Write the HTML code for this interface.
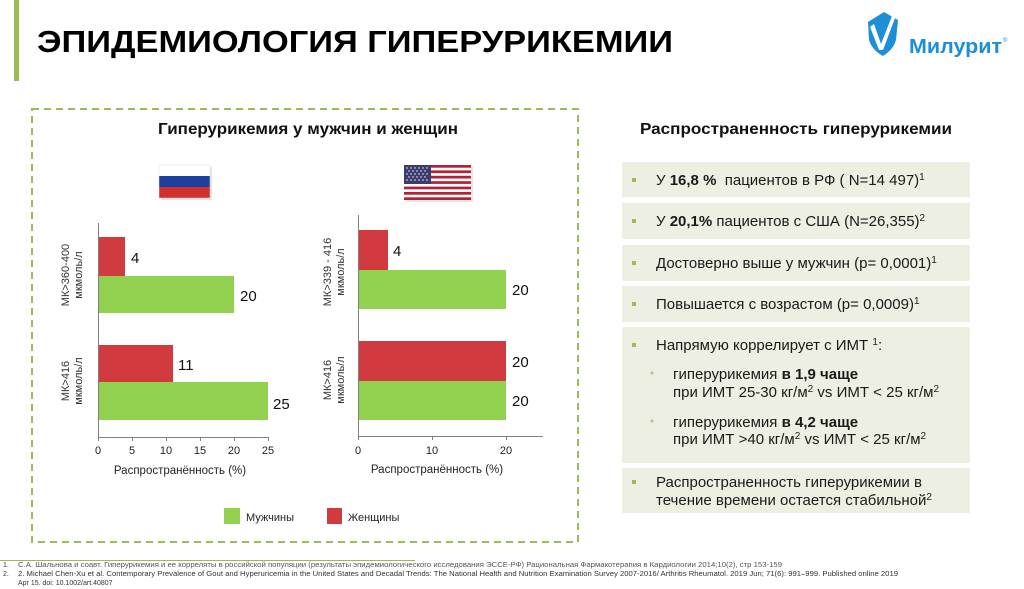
<!DOCTYPE html>
<html><head><meta charset="utf-8"><style>
html,body{margin:0;padding:0;background:#fff;}
svg{display:block;font-family:"Liberation Sans","DejaVu Sans",sans-serif;}
</style></head><body>
<svg width="1024" height="589" viewBox="0 0 1024 589" xmlns="http://www.w3.org/2000/svg">
<rect width="1024" height="589" fill="#fff"/>
<!-- title -->
<rect x="14" y="0" width="5" height="81" fill="#9bbb59"/>
<text x="37" y="52" font-size="31" font-weight="bold" fill="#000" textLength="636" lengthAdjust="spacingAndGlyphs">ЭПИДЕМИОЛОГИЯ ГИПЕРУРИКЕМИИ</text>
<!-- logo -->
<path d="M868 22 L884 12 L898 20 L896 40 Q893 50 883 56 Q872 50 869 40 Z" fill="#1d8fd8"/>
<path d="M874 24 L881 44 L892 16 L895 18 L883 50 L879 50 L870 27 Z" fill="#fff"/>
<text x="909" y="53" font-size="20" font-weight="bold" fill="#1d8fd8" textLength="93" lengthAdjust="spacingAndGlyphs">Милурит</text>
<text x="1003" y="42" font-size="6" fill="#1d8fd8">®</text>
<!-- dashed box -->
<rect x="32" y="109" width="546" height="433" fill="none" stroke="#9bbb59" stroke-width="2" stroke-dasharray="7 5"/>
<text x="158" y="134" font-size="16" font-weight="bold" fill="#111" textLength="300" lengthAdjust="spacingAndGlyphs">Гиперурикемия у мужчин и женщин</text>
<!-- Russian flag -->
<rect x="161" y="167" width="51" height="33" fill="#ccc" opacity="0.5"/>
<rect x="159" y="165" width="51" height="11" fill="#fff"/>
<rect x="159" y="176" width="51" height="11" fill="#1f3f9f"/>
<rect x="159" y="187" width="51" height="11" fill="#d0312d"/>
<rect x="159" y="165" width="51" height="33" fill="none" stroke="#ddd" stroke-width="0.5"/>
<!-- US flag -->
<g>
<rect x="406" y="167" width="67" height="35" fill="#ccc" opacity="0.5"/>
<rect x="404" y="165" width="67" height="35" fill="#fff"/>
<g fill="#b22234">
<rect x="404" y="165" width="67" height="2.7"/>
<rect x="404" y="170.4" width="67" height="2.7"/>
<rect x="404" y="175.8" width="67" height="2.7"/>
<rect x="404" y="181.2" width="67" height="2.7"/>
<rect x="404" y="186.6" width="67" height="2.7"/>
<rect x="404" y="192" width="67" height="2.7"/>
<rect x="404" y="197.3" width="67" height="2.7"/>
</g>
<rect x="404" y="165" width="27" height="19" fill="#3c3b6e"/>
<g fill="#fff">
<circle cx="407" cy="168" r="0.7"/><circle cx="411" cy="168" r="0.7"/><circle cx="415" cy="168" r="0.7"/><circle cx="419" cy="168" r="0.7"/><circle cx="423" cy="168" r="0.7"/><circle cx="427" cy="168" r="0.7"/>
<circle cx="409" cy="171" r="0.7"/><circle cx="413" cy="171" r="0.7"/><circle cx="417" cy="171" r="0.7"/><circle cx="421" cy="171" r="0.7"/><circle cx="425" cy="171" r="0.7"/>
<circle cx="407" cy="174" r="0.7"/><circle cx="411" cy="174" r="0.7"/><circle cx="415" cy="174" r="0.7"/><circle cx="419" cy="174" r="0.7"/><circle cx="423" cy="174" r="0.7"/><circle cx="427" cy="174" r="0.7"/>
<circle cx="409" cy="177" r="0.7"/><circle cx="413" cy="177" r="0.7"/><circle cx="417" cy="177" r="0.7"/><circle cx="421" cy="177" r="0.7"/><circle cx="425" cy="177" r="0.7"/>
<circle cx="407" cy="180" r="0.7"/><circle cx="411" cy="180" r="0.7"/><circle cx="415" cy="180" r="0.7"/><circle cx="419" cy="180" r="0.7"/><circle cx="423" cy="180" r="0.7"/><circle cx="427" cy="180" r="0.7"/>
</g>
</g>
<!-- Chart 1 -->
<g>
<rect x="98" y="237" width="27" height="39" fill="#d13b40"/>
<rect x="98" y="276" width="136" height="37" fill="#92d050"/>
<rect x="98" y="345" width="75" height="37" fill="#d13b40"/>
<rect x="98" y="382" width="170" height="38" fill="#92d050"/>
<line x1="98.5" y1="223" x2="98.5" y2="437" stroke="#808080" stroke-width="1"/>
<line x1="98" y1="437.5" x2="269" y2="437.5" stroke="#808080" stroke-width="1"/>
<g stroke="#808080" stroke-width="1">
<line x1="98.5" y1="437" x2="98.5" y2="441"/><line x1="132.5" y1="437" x2="132.5" y2="441"/><line x1="166.5" y1="437" x2="166.5" y2="441"/><line x1="200.5" y1="437" x2="200.5" y2="441"/><line x1="234.5" y1="437" x2="234.5" y2="441"/><line x1="268.5" y1="437" x2="268.5" y2="441"/>
</g>
<g font-size="11" fill="#222" text-anchor="middle">
<text x="98" y="454">0</text><text x="132" y="454">5</text><text x="166" y="454">10</text><text x="200" y="454">15</text><text x="234" y="454">20</text><text x="268" y="454">25</text>
</g>
<text x="180" y="474" font-size="11.5" fill="#222" text-anchor="middle">Распространённость (%)</text>
<g font-size="15" fill="#111">
<text x="131" y="263">4</text><text x="240" y="301">20</text><text x="178" y="370">11</text><text x="273" y="409">25</text>
</g>
<g font-size="11" fill="#333" text-anchor="middle">
<text transform="translate(69,275) rotate(-90)">МК&gt;360-400</text>
<text transform="translate(82,275) rotate(-90)">мкмоль/л</text>
<text transform="translate(69,381) rotate(-90)">МК&gt;416</text>
<text transform="translate(82,381) rotate(-90)">мкмоль/л</text>
</g>
</g>
<!-- Chart 2 -->
<g>
<rect x="358" y="230" width="30" height="40" fill="#d13b40"/>
<rect x="358" y="270" width="148" height="39" fill="#92d050"/>
<rect x="358" y="341" width="148" height="40" fill="#d13b40"/>
<rect x="358" y="381" width="148" height="39" fill="#92d050"/>
<line x1="358.5" y1="215" x2="358.5" y2="436" stroke="#808080" stroke-width="1"/>
<line x1="358" y1="436.5" x2="543" y2="436.5" stroke="#808080" stroke-width="1"/>
<g stroke="#808080" stroke-width="1">
<line x1="358.5" y1="436" x2="358.5" y2="440"/><line x1="432.5" y1="436" x2="432.5" y2="440"/><line x1="506.5" y1="436" x2="506.5" y2="440"/>
</g>
<g font-size="11" fill="#222" text-anchor="middle">
<text x="358" y="454">0</text><text x="432" y="454">10</text><text x="506" y="454">20</text>
</g>
<text x="437" y="473" font-size="11.5" fill="#222" text-anchor="middle">Распространённость (%)</text>
<g font-size="15" fill="#111">
<text x="393" y="256">4</text><text x="512" y="295">20</text><text x="512" y="367">20</text><text x="512" y="406">20</text>
</g>
<g font-size="11" fill="#333" text-anchor="middle">
<text transform="translate(331,272) rotate(-90)">МК&gt;339 - 416</text>
<text transform="translate(344,272) rotate(-90)">мкмоль/л</text>
<text transform="translate(331,380) rotate(-90)">МК&gt;416</text>
<text transform="translate(344,380) rotate(-90)">мкмоль/л</text>
</g>
</g>
<!-- legend -->
<rect x="224" y="508" width="16" height="16" fill="#92d050"/>
<text x="246" y="521" font-size="11" fill="#222">Мужчины</text>
<rect x="327" y="508" width="15" height="16" fill="#d13b40"/>
<text x="348" y="521" font-size="11" fill="#222">Женщины</text>
<!-- right panel -->
<text x="640" y="134" font-size="16" font-weight="bold" fill="#111" textLength="312" lengthAdjust="spacingAndGlyphs">Распространенность гиперурикемии</text>
<g fill="#edefe2">
<rect x="622" y="162" width="348" height="35"/>
<rect x="622" y="203" width="348" height="36"/>
<rect x="622" y="245" width="348" height="36"/>
<rect x="622" y="286" width="348" height="36"/>
<rect x="622" y="327" width="348" height="136"/>
<rect x="622" y="468" width="348" height="45"/>
</g>
<g fill="#9bbb59">
<rect x="632" y="178" width="4" height="4"/>
<rect x="632" y="219" width="4" height="4"/>
<rect x="632" y="261" width="4" height="4"/>
<rect x="632" y="302" width="4" height="4"/>
<rect x="632" y="343" width="4" height="4"/>
<rect x="632" y="480" width="4" height="4"/>
</g>
<g fill="#b5c98a">
<circle cx="652" cy="373" r="1.6"/>
<circle cx="652" cy="421" r="1.6"/>
</g>
<g font-size="15" fill="#1a1a1a" style="white-space:pre">
<text x="656" y="185" xml:space="preserve">У <tspan font-weight="bold">16,8 %</tspan>  пациентов в РФ ( N=14 497)<tspan font-size="10" dy="-5">1</tspan></text>
<text x="656" y="226">У <tspan font-weight="bold">20,1%</tspan> пациентов с США (N=26,355)<tspan font-size="10" dy="-5">2</tspan></text>
<text x="656" y="268">Достоверно выше у мужчин (p= 0,0001)<tspan font-size="10" dy="-5">1</tspan></text>
<text x="656" y="309">Повышается с возрастом (p= 0,0009)<tspan font-size="10" dy="-5">1</tspan></text>
<text x="656" y="350">Напрямую коррелирует с ИМТ <tspan font-size="10" dy="-5">1</tspan><tspan dy="5">:</tspan></text>
<text x="673" y="379">гиперурикемия <tspan font-weight="bold">в 1,9 чаще</tspan></text>
<text x="673" y="397">при ИМТ 25-30 кг/м<tspan font-size="10" dy="-5">2</tspan><tspan dy="5"> vs ИМТ &lt; 25 кг/м</tspan><tspan font-size="10" dy="-5">2</tspan></text>
<text x="673" y="427">гиперурикемия <tspan font-weight="bold">в 4,2 чаще</tspan></text>
<text x="673" y="444">при ИМТ &gt;40 кг/м<tspan font-size="10" dy="-5">2</tspan><tspan dy="5"> vs ИМТ &lt; 25 кг/м</tspan><tspan font-size="10" dy="-5">2</tspan></text>
<text x="656" y="487">Распространенность гиперурикемии в</text>
<text x="656" y="505">течение времени остается стабильной<tspan font-size="10" dy="-5">2</tspan></text>
</g>
<!-- footnotes -->
<line x1="0" y1="560.5" x2="415" y2="560.5" stroke="#9bbb59" stroke-width="1"/>
<g font-size="7" fill="#333">
<text x="3" y="567">1.</text>
<text x="18" y="567" fill="#555" textLength="764" lengthAdjust="spacingAndGlyphs">С.А. Шальнова и соавт. Гиперурикемия и ее корреляты в российской популяции (результаты эпидемиологического исследования ЭССЕ-РФ) Рациональная Фармакотерапия в Кардиологии 2014;10(2), стр 153-159</text>
<text x="3" y="576">2.</text>
<text x="18" y="576" textLength="880" lengthAdjust="spacingAndGlyphs">2. Michael Chen-Xu et al. Contemporary Prevalence of Gout and Hyperuricemia in the United States and Decadal Trends: The National Health and Nutrition Examination Survey 2007-2016/ Arthritis Rheumatol. 2019 Jun; 71(6): 991–999. Published online 2019</text>
<text x="18" y="585">Apr 15. doi: 10.1002/art.40807</text>
</g>
</svg>
</body></html>
